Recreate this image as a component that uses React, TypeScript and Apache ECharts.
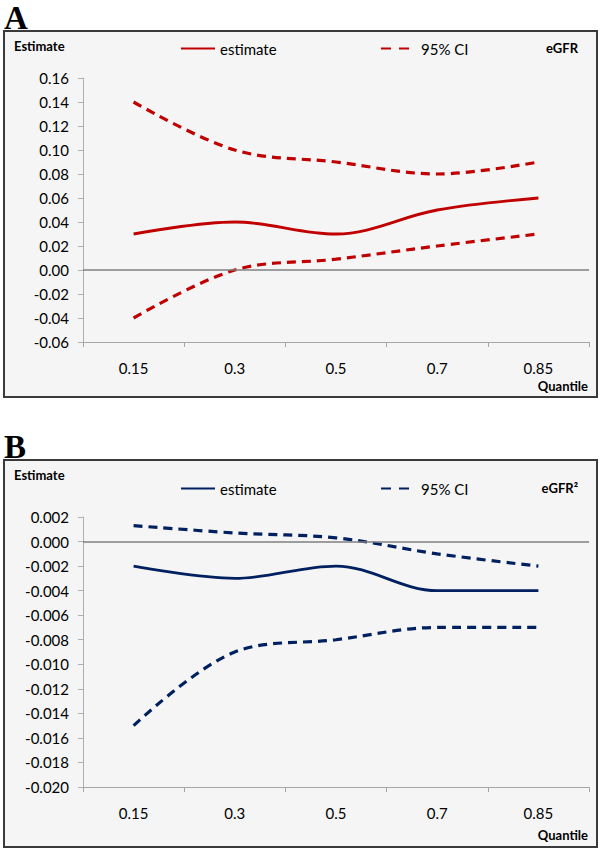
import React, { useEffect, useRef } from "react";
import * as echarts from "echarts";

const quantiles = ["0.15", "0.3", "0.5", "0.7", "0.85"];

const eGFREstimate = [0.03, 0.04, 0.03, 0.05, 0.06];
const eGFRUpper = [0.14, 0.1, 0.09, 0.08, 0.09];
const eGFRLower = [-0.04, 0.0, 0.009, 0.02, 0.03];
const eGFRTicks = { min: -0.06, max: 0.16, interval: 0.02, decimals: 2 };

const eGFR2Estimate = [-0.002, -0.003, -0.002, -0.004, -0.004];
const eGFR2Upper = [0.0013, 0.0007, 0.0003, -0.001, -0.002];
const eGFR2Lower = [-0.015, -0.009, -0.008, -0.007, -0.007];
const eGFR2Ticks = { min: -0.02, max: 0.002, interval: 0.002, decimals: 3 };

const FONT = "Lato, 'Noto Sans', sans-serif";

type Panel = {
  letter: string;
  label: string;
  color: string;
  est: number[];
  up: number[];
  lo: number[];
  ticks: { min: number; max: number; interval: number; decimals: number };
  height: number;
  boxTop: number;
  boxBottom: number;
  gridTop: number;
  gridBottom: number;
  legendTop: number;
  estimateTitleY: number;
  quantileY: number;
};

function buildOption(p: Panel) {
  const dash = { type: [9, 6] as any, width: 3.2, color: p.color };
  const legendCommon = {
    padding: 0,
    itemHeight: 14,
    top: p.legendTop,
    itemStyle: { opacity: 0, color: "transparent", borderWidth: 0 },
    textStyle: { fontSize: 15, color: "#000", fontFamily: FONT },
  };
  return {
    animation: false,
    textStyle: { fontFamily: FONT },
    graphic: [
      {
        type: "rect",
        z: -10,
        shape: { x: 4, y: p.boxTop, width: 593, height: p.boxBottom - p.boxTop },
        style: { fill: "#f5f5f5", stroke: "#3a3a3a", lineWidth: 2 },
      },
      {
        type: "text",
        x: 4,
        y: p.boxTop - 30,
        style: {
          text: p.letter,
          fontFamily: "'Liberation Serif', serif",
          fontWeight: "bold",
          fontSize: 33,
          fill: "#000",
        },
      },
      {
        type: "text",
        x: 14,
        y: p.estimateTitleY,
        style: {
          text: "Estimate",
          fontFamily: FONT,
          fontWeight: "bold",
          fontSize: 13,
          fill: "#000",
          verticalAlign: "middle",
        },
      },
      {
        type: "text",
        x: 578,
        y: p.legendTop + 7,
        style: {
          text: p.label,
          fontFamily: FONT,
          fontWeight: "bold",
          fontSize: 13,
          fill: "#000",
          align: "right",
          verticalAlign: "middle",
        },
      },
      {
        type: "text",
        x: 588,
        y: p.quantileY,
        style: {
          text: "Quantile",
          fontFamily: FONT,
          fontWeight: "bold",
          fontSize: 13,
          fill: "#000",
          align: "right",
          verticalAlign: "middle",
        },
      },
    ],
    legend: [
      { ...legendCommon, data: ["estimate"], left: 180, itemWidth: 34 },
      {
        ...legendCommon,
        data: ["95% CI"],
        left: 380,
        itemWidth: 28,
        lineStyle: { type: [10, 8] },
        textStyle: { ...legendCommon.textStyle, padding: [0, 0, 0, 7] },
      },
    ],
    grid: { left: 83, right: 11, top: p.gridTop, bottom: p.gridBottom },
    xAxis: {
      type: "category",
      data: quantiles,
      boundaryGap: true,
      axisLine: { onZero: false, lineStyle: { color: "#a6a6a6", width: 1 } },
      axisTick: { show: true, inside: false, length: 5, lineStyle: { color: "#a6a6a6" } },
      axisLabel: { margin: 18, fontSize: 15, color: "#000", fontFamily: FONT },
      splitLine: { show: false },
    },
    yAxis: {
      type: "value",
      min: p.ticks.min,
      max: p.ticks.max,
      interval: p.ticks.interval,
      axisLine: { show: true, lineStyle: { color: "#b0b0b0", width: 1 } },
      axisTick: { show: true, length: 5, lineStyle: { color: "#b0b0b0" } },
      axisLabel: {
        margin: 14,
        fontSize: 15,
        color: "#000",
        fontFamily: FONT,
        formatter: (v: number) => v.toFixed(p.ticks.decimals),
      },
      splitLine: { show: false },
    },
    series: [
      {
        name: "estimate",
        type: "line",
        data: p.est,
        smooth: 0.35,
        symbol: "none",
        lineStyle: { color: p.color, width: 2.8, type: "solid" },
        itemStyle: { color: p.color },
        markLine: {
          silent: true,
          symbol: "none",
          label: { show: false },
          lineStyle: { color: "#7f7f7f", width: 1.5, type: "solid" },
          data: [{ yAxis: 0 }],
        },
      },
      {
        name: "95% CI",
        type: "line",
        data: p.up,
        smooth: 0.35,
        symbol: "none",
        lineStyle: dash,
        itemStyle: { color: p.color },
      },
      {
        name: "95% CI",
        type: "line",
        data: p.lo,
        smooth: 0.35,
        symbol: "none",
        lineStyle: dash,
        itemStyle: { color: p.color },
      },
    ],
  };
}

const panelA: Panel = {
  letter: "A",
  label: "eGFR",
  color: "#c00000",
  est: eGFREstimate,
  up: eGFRUpper,
  lo: eGFRLower,
  ticks: eGFRTicks,
  height: 425,
  boxTop: 31,
  boxBottom: 397,
  gridTop: 78,
  gridBottom: 83,
  legendTop: 41,
  estimateTitleY: 46,
  quantileY: 386,
};

const panelB: Panel = {
  letter: "B",
  label: "eGFR²",
  color: "#002060",
  est: eGFR2Estimate,
  up: eGFR2Upper,
  lo: eGFR2Lower,
  ticks: eGFR2Ticks,
  height: 426,
  boxTop: 35,
  boxBottom: 422,
  gridTop: 92,
  gridBottom: 64,
  legendTop: 56,
  estimateTitleY: 50,
  quantileY: 410,
};

function ChartPanel({ panel, top }: { panel: Panel; top: number }) {
  const ref = useRef<HTMLDivElement>(null);
  useEffect(() => {
    if (!ref.current) return;
    const chart = echarts.init(ref.current, undefined, { renderer: "svg" });
    chart.setOption(buildOption(panel) as any);
    return () => chart.dispose();
  }, [panel]);
  return (
    <div
      ref={ref}
      style={{ position: "absolute", left: 0, top, width: 600, height: panel.height }}
    />
  );
}

export default function App() {
  return (
    <div
      style={{
        position: "absolute",
        left: 0,
        top: 0,
        width: 600,
        height: 851,
        background: "#fff",
      }}
    >
      <ChartPanel panel={panelA} top={0} />
      <ChartPanel panel={panelB} top={425} />
    </div>
  );
}
